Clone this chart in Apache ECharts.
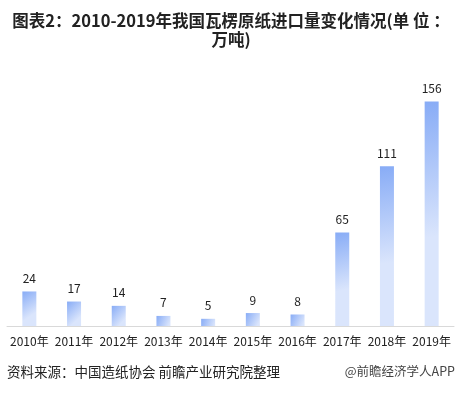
<!DOCTYPE html>
<html><head><meta charset="utf-8">
<script src="https://cdn.jsdelivr.net/npm/echarts@6/dist/echarts.min.js"></script>
<style>html,body{margin:0;padding:0;background:#fff}#c{width:462px;height:394px}</style>
</head><body><div id="c"></div>
<script>
const categories = ['2010年','2011年','2012年','2013年','2014年','2015年','2016年','2017年','2018年','2019年'];
const values = [24,17,14,7,5,9,8,65,111,156];
const titleLines = ['图表2：2010-2019年我国瓦楞原纸进口量变化情况(单 位 ：','万吨)'];
const sourceText = '资料来源：中国造纸协会 前瞻产业研究院整理';
const brandText = '@前瞻经济学人APP';

const chart = echarts.init(document.getElementById('c'), null, {renderer:'canvas'});
const ff = '"Microsoft YaHei","Noto Sans CJK SC",sans-serif';
chart.setOption({
  animation:false,
  title:[{text:titleLines.join('\n'), left:'center', top:6, textStyle:{fontSize:16.5, fontWeight:'bold', color:'#222', fontFamily:ff, lineHeight:19}}],
  graphic:[
    {type:'text', left:7, top:365, style:{text:sourceText, fontSize:13.5, fill:'#222', fontFamily:ff}},
    {type:'text', right:7, top:365, style:{text:brandText, fontSize:12.5, fill:'#444', fontFamily:ff}}
  ],
  grid:{left:7, right:8, top:67, bottom:68, containLabel:false},
  xAxis:{type:'category', data:categories,
    axisLine:{lineStyle:{color:'#d9d9d9', width:1}}, axisTick:{show:false},
    axisLabel:{color:'#222', fontSize:12, fontFamily:ff, margin:9, interval:0}},
  yAxis:{type:'value', min:0, max:180, show:false, splitLine:{show:false}},
  series:[{type:'bar', data:values, barWidth:14,
    itemStyle:{color:new echarts.graphic.LinearGradient(0,0,1,0.6,[{offset:0,color:'#88acf6'},{offset:1,color:'#dae5fc'}])},
    label:{show:true, position:'top', distance:7, color:'#222', fontSize:12, fontFamily:ff}}]
});
</script></body></html>
